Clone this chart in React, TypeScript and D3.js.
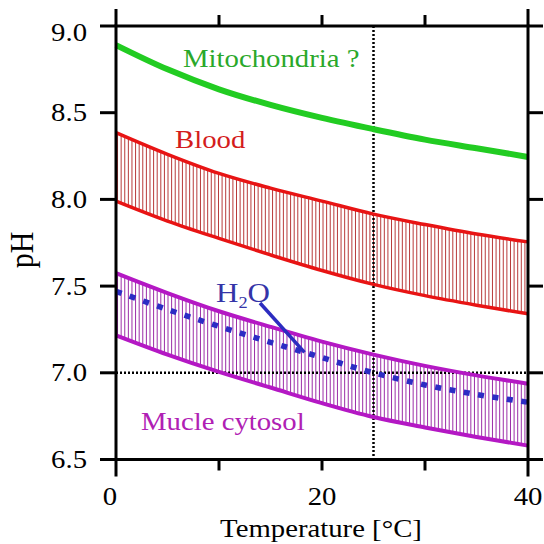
import * as d3 from 'd3'

// temperature [°C] and pH readings
const temps = [0, 5, 10, 15, 20, 25, 30, 35, 40]
const mitochondria = [8.89, 8.75, 8.635, 8.545, 8.47, 8.405, 8.345, 8.295, 8.245]
const bloodHigh = [8.385, 8.26, 8.15, 8.065, 7.99, 7.915, 7.855, 7.8, 7.755]
const bloodLow = [7.99, 7.875, 7.775, 7.68, 7.59, 7.51, 7.445, 7.39, 7.34]
const muscleHigh = [7.575, 7.46, 7.355, 7.265, 7.18, 7.105, 7.04, 6.985, 6.937]
const muscleLow = [7.216, 7.105, 7.005, 6.915, 6.825, 6.745, 6.685, 6.63, 6.58]
const water = [7.47, 7.365, 7.268, 7.176, 7.088, 7.0, 6.93, 6.875, 6.83]

const xTicks = [0, 10, 20, 30, 40]
const xLabels = [0, 20, 40]
const yTicks = [6.5, 7.0, 7.5, 8.0, 8.5, 9.0]
const refTemp = 25
const refPH = 7.0
const arrowTemp = 18.3

const FONT = 'Liberation Serif'
const SX = 1.15 // the original is stretched horizontally

const W = 544
const H = 544
const left = 116
const right = 528
const top = 26
const bottom = 459.5

const x = d3.scaleLinear().domain([0, 40]).range([left, right])
const y = d3.scaleLinear().domain([6.5, 9]).range([bottom, top])

const line = (vals: number[]) =>
  d3
    .line<number>()
    .x((_, i) => x(temps[i]))
    .y((d) => y(d))
    .curve(d3.curveCatmullRom)(vals) || ''

const band = (lo: number[], hi: number[]) =>
  d3
    .area<number>()
    .x((_, i) => x(temps[i]))
    .y0((_, i) => y(lo[i]))
    .y1((d) => y(d))
    .curve(d3.curveCatmullRom)(hi) || ''

const hatchTemps = d3.range(0.15, 40, 0.35)

const Label = ({
  tx,
  ty,
  size = 25,
  anchor = 'start',
  fill = '#000',
  children,
}: {
  tx: number
  ty: number
  size?: number
  anchor?: string
  fill?: string
  children: any
}) => (
  <text
    transform={`translate(${tx},${ty}) scale(${SX},1)`}
    fontSize={size}
    textAnchor={anchor}
    fill={fill}
    style={{ fontFamily: FONT }}
  >
    {children}
  </text>
)

export default function App() {
  const waterAt = d3.scaleLinear().domain(temps).range(water)
  const ax = x(arrowTemp)
  const ay = y(waterAt(arrowTemp))

  return (
    <svg
      width={W}
      height={H}
      style={{ position: 'absolute', left: 0, top: 0, background: '#fff' }}
    >
      <defs>
        <clipPath id="blood-clip">
          <path d={band(bloodLow, bloodHigh)} />
        </clipPath>
        <clipPath id="muscle-clip">
          <path d={band(muscleLow, muscleHigh)} />
        </clipPath>
      </defs>

      {/* hatched bands */}
      <g clipPath="url(#blood-clip)" stroke="#b83a3a" strokeWidth={1}>
        {hatchTemps.map((t) => (
          <line key={t} x1={x(t)} x2={x(t)} y1={top} y2={bottom} />
        ))}
      </g>
      <g clipPath="url(#muscle-clip)" stroke="#9c2ea8" strokeWidth={1}>
        {hatchTemps.map((t) => (
          <line key={t} x1={x(t)} x2={x(t)} y1={top} y2={bottom} />
        ))}
      </g>

      {/* reference lines */}
      <g stroke="#000" strokeWidth={2.5} strokeDasharray="2,2">
        <line x1={x(refTemp)} x2={x(refTemp)} y1={top} y2={bottom} />
        <line x1={left} x2={right} y1={y(refPH)} y2={y(refPH)} />
      </g>

      {/* curves */}
      <g fill="none">
        <path d={line(mitochondria)} stroke="#22cc22" strokeWidth={6} />
        <path d={line(bloodHigh)} stroke="#e81414" strokeWidth={3.5} />
        <path d={line(bloodLow)} stroke="#e81414" strokeWidth={3.5} />
        <path d={line(muscleHigh)} stroke="#b418c4" strokeWidth={4} />
        <path d={line(muscleLow)} stroke="#b418c4" strokeWidth={4} />
        <path
          d={line(water)}
          stroke="#2c2cc4"
          strokeWidth={5.5}
          strokeDasharray="6,8.5"
        />
      </g>

      {/* H2O pointer */}
      <line
        x1={260}
        y1={303}
        x2={ax}
        y2={ay}
        stroke="#2c2cc0"
        strokeWidth={3.5}
      />

      {/* frame and ticks */}
      <g stroke="#000" strokeWidth={3} fill="none">
        <rect x={left} y={top} width={right - left} height={bottom - top} />
        {yTicks.map((t) => (
          <g key={t}>
            <line x1={left - 16} x2={left} y1={y(t)} y2={y(t)} />
            <line x1={right} x2={right + 15} y1={y(t)} y2={y(t)} />
          </g>
        ))}
        {xTicks.map((t) => {
          const len = t === 0 || t === 40 ? 17 : 11
          return (
            <g key={t}>
              <line x1={x(t)} x2={x(t)} y1={top - len} y2={top} />
              <line x1={x(t)} x2={x(t)} y1={bottom} y2={bottom + len} />
            </g>
          )
        })}
      </g>

      {/* tick labels */}
      {yTicks.map((t) => (
        <Label key={t} tx={87} ty={y(t) + 8.5 + (t === 9 ? 6 : 0)} anchor="end">
          {t.toFixed(1)}
        </Label>
      ))}
      {xLabels.map((t) => (
        <Label key={t} tx={x(t) + (t === 0 ? -6 : 0)} ty={505} anchor="middle">
          {t}
        </Label>
      ))}

      {/* axis titles */}
      <Label tx={321} ty={537} anchor="middle">
        Temperature [°C]
      </Label>
      <text
        transform={`translate(33,250) scale(${SX},1) rotate(-90)`}
        fontSize={30}
        textAnchor="middle"
        style={{ fontFamily: FONT }}
      >
        pH
      </text>

      {/* series labels */}
      <Label tx={183} ty={67} fill="#2aa82a">
        Mitochondria ?
      </Label>
      <Label tx={175} ty={148} fill="#d41c1c">
        Blood
      </Label>
      <Label tx={141} ty={430} fill="#b020b4">
        Mucle cytosol
      </Label>
      <Label tx={216} ty={302} size={27} fill="#3434a8">
        H
        <tspan fontSize={16} dy={6}>
          2
        </tspan>
        <tspan dy={-6}>O</tspan>
      </Label>
    </svg>
  )
}
